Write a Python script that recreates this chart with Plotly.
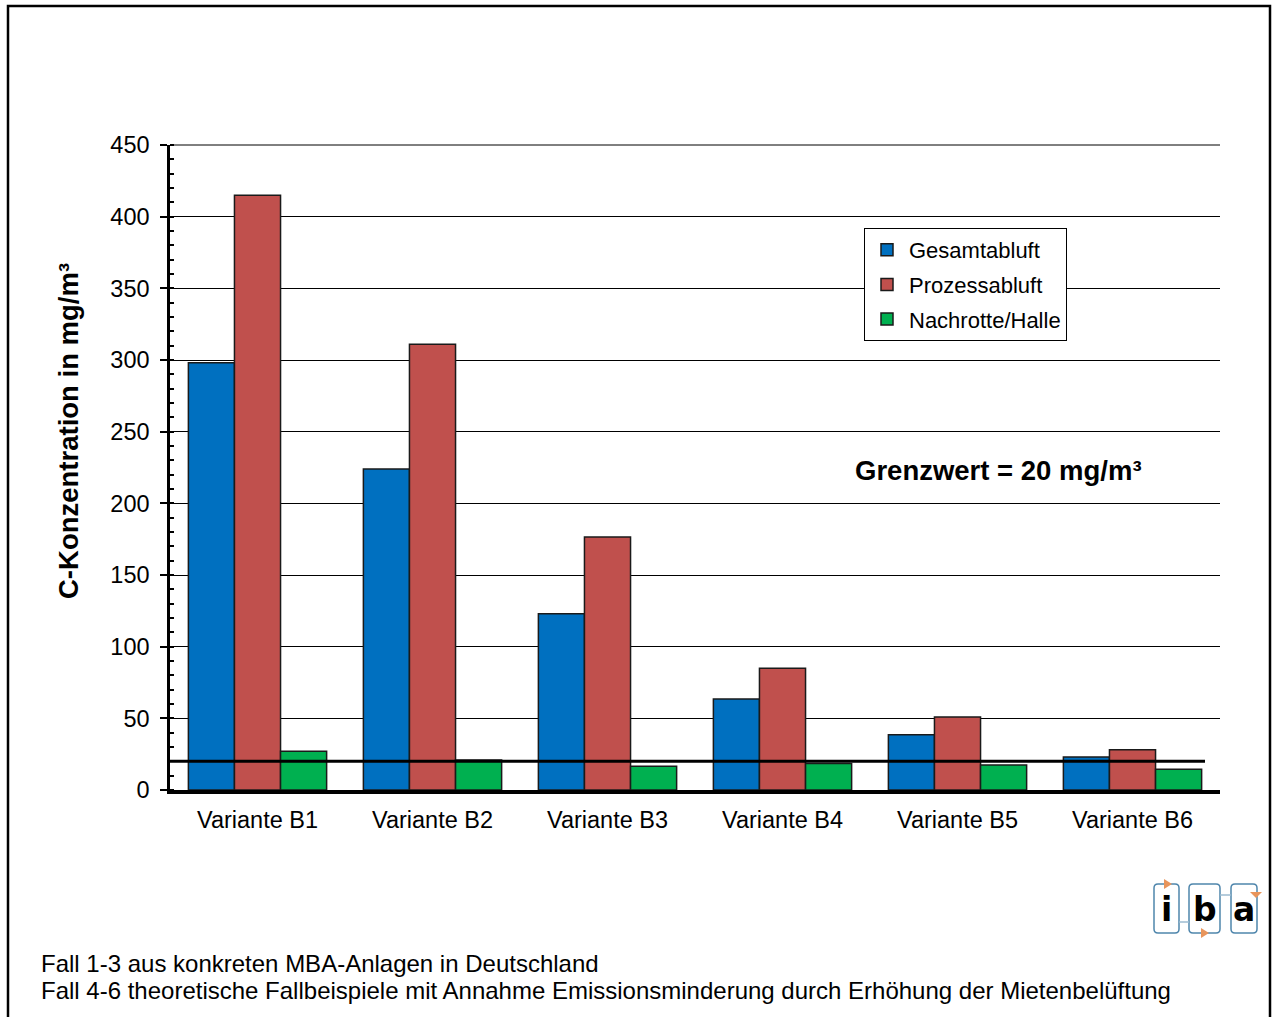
import plotly.graph_objects as go

# Data
varianten = ["Variante B1", "Variante B2", "Variante B3", "Variante B4", "Variante B5", "Variante B6"]
gesamtabluft = [298, 224, 123, 63.5, 38.5, 23]
prozessabluft = [415, 311, 176.5, 85, 51, 28]
nachrotte_halle = [27, 21, 16.5, 18.5, 17.5, 14.5]
grenzwert = 20

W, H = 1272, 1017
L, R, T, B = 170, 52, 145, 227
PW, PH = W - L - R, H - T - B
FONT = "Liberation Sans"


def px(x):
    return (x - L) / PW


def py(y):
    return (H - B - y) / PH


fig = go.Figure()
series = [
    ("Gesamtabluft", gesamtabluft, "#0070C0"),
    ("Prozessabluft", prozessabluft, "#C0504D"),
    ("Nachrotte/Halle", nachrotte_halle, "#00B050"),
]
for name, vals, col in series:
    fig.add_trace(go.Bar(
        x=varianten, y=vals, name=name, legendgroup=name,
        marker=dict(color=col, line=dict(color="#1a1a1a", width=1.5)),
    ))

shapes = []
# Top gridline at the upper end of the value axis
shapes.append(dict(type="line", xref="paper", yref="paper", x0=0, x1=1, y0=1, y1=1,
                   line=dict(color="black", width=1), layer="below"))
# Limit value line
shapes.append(dict(type="line", xref="paper", yref="y", x0=0, x1=px(1205),
                   y0=grenzwert, y1=grenzwert, line=dict(color="black", width=3),
                   layer="above"))
# Outer frame
shapes.append(dict(type="path", xref="paper", yref="paper",
                   path=f"M {px(8)} {py(1030)} L {px(8)} {py(6)} L {px(1270)} {py(6)} L {px(1270)} {py(1030)}",
                   line=dict(color="black", width=2.5)))

# Logo boxes
box_col = "#4F86AC"
orange = "#E8955C"
boxes = [(1154, 1179), (1189, 1220), (1231, 1257)]
for x0, x1 in boxes:
    r = 4
    y0, y1 = 884, 933
    path = (f"M {px(x0 + r)} {py(y0)} L {px(x1 - r)} {py(y0)} "
            f"Q {px(x1)} {py(y0)} {px(x1)} {py(y0 + r)} L {px(x1)} {py(y1 - r)} "
            f"Q {px(x1)} {py(y1)} {px(x1 - r)} {py(y1)} L {px(x0 + r)} {py(y1)} "
            f"Q {px(x0)} {py(y1)} {px(x0)} {py(y1 - r)} L {px(x0)} {py(y0 + r)} "
            f"Q {px(x0)} {py(y0)} {px(x0 + r)} {py(y0)} Z")
    shapes.append(dict(type="path", xref="paper", yref="paper", path=path,
                       line=dict(color=box_col, width=1.5)))
# connectors
shapes.append(dict(type="line", xref="paper", yref="paper", x0=px(1179), x1=px(1189),
                   y0=py(922), y1=py(922), line=dict(color="#9DBBD0", width=1.5)))
shapes.append(dict(type="line", xref="paper", yref="paper", x0=px(1220), x1=px(1231),
                   y0=py(895), y1=py(895), line=dict(color="#9DBBD0", width=1.5)))
# orange arrow heads
tris = [
    [(1164, 879), (1172, 884), (1164, 889)],
    [(1201, 928), (1209, 933), (1201, 938)],
    [(1250, 892), (1262, 892), (1256, 898)],
]
for t in tris:
    p = "M " + " L ".join(f"{px(a)} {py(b)}" for a, b in t) + " Z"
    shapes.append(dict(type="path", xref="paper", yref="paper", path=p,
                       fillcolor=orange, line=dict(color=orange, width=0)))

annotations = [
    dict(text=f"Grenzwert = {grenzwert} mg/m³", xref="paper", yref="paper",
         x=px(998), y=py(470), xanchor="center", yanchor="middle", showarrow=False,
         font=dict(size=27.5, family=FONT, color="black", weight="bold")),
    dict(text="C-Konzentration in mg/m³", xref="paper", yref="paper",
         x=px(68), y=py(431), xanchor="center", yanchor="middle", textangle=-90,
         showarrow=False, font=dict(size=27.5, family=FONT, color="black", weight="bold")),
    dict(text="Fall 1-3 aus konkreten MBA-Anlagen in Deutschland", xref="paper", yref="paper",
         x=px(39), y=py(963), xanchor="left", yanchor="middle", showarrow=False,
         font=dict(size=24, family=FONT, color="black")),
    dict(text="Fall 4-6 theoretische Fallbeispiele mit Annahme Emissionsminderung durch Erhöhung der Mietenbelüftung",
         xref="paper", yref="paper",
         x=px(39), y=py(990), xanchor="left", yanchor="middle", showarrow=False,
         font=dict(size=24, family=FONT, color="black")),
]
for (x0, x1), ch in zip(boxes, ["i", "b", "a"]):
    annotations.append(dict(text=ch, xref="paper", yref="paper", x=px((x0 + x1) / 2), y=py(910),
                            xanchor="center", yanchor="middle", showarrow=False,
                            font=dict(size=33, family="DejaVu Sans", color="black", weight="bold")))

fig.update_layout(
    width=W, height=H,
    margin=dict(l=L, r=R, t=T, b=B),
    paper_bgcolor="white", plot_bgcolor="white",
    font=dict(family=FONT, size=23.5, color="black"),
    barmode="group", bargap=0.21, bargroupgap=0,
    shapes=shapes, annotations=annotations,
    legend=dict(x=px(864), y=py(228), xanchor="left", yanchor="top",
                bgcolor="white", bordercolor="black", borderwidth=1,
                font=dict(size=22, family=FONT),
                itemwidth=34, tracegroupgap=3, entrywidth=172),
    showlegend=True,
)
fig.update_yaxes(
    range=[0, 450], dtick=50, showgrid=True, gridcolor="black", gridwidth=1,
    showline=True, linecolor="black", linewidth=2.5,
    ticks="outside", ticklen=7, tickwidth=2, tickcolor="black",
    minor=dict(dtick=10, ticks="inside", ticklen=4, tickwidth=2, tickcolor="black", showgrid=False),
    tickfont=dict(size=23.5), zeroline=False, ticklabelstandoff=6,
)
fig.update_xaxes(
    showline=True, linecolor="black", linewidth=3.5, ticks="",
    tickfont=dict(size=23.5), ticklabelstandoff=6,
)

fig.write_html("out.html")
